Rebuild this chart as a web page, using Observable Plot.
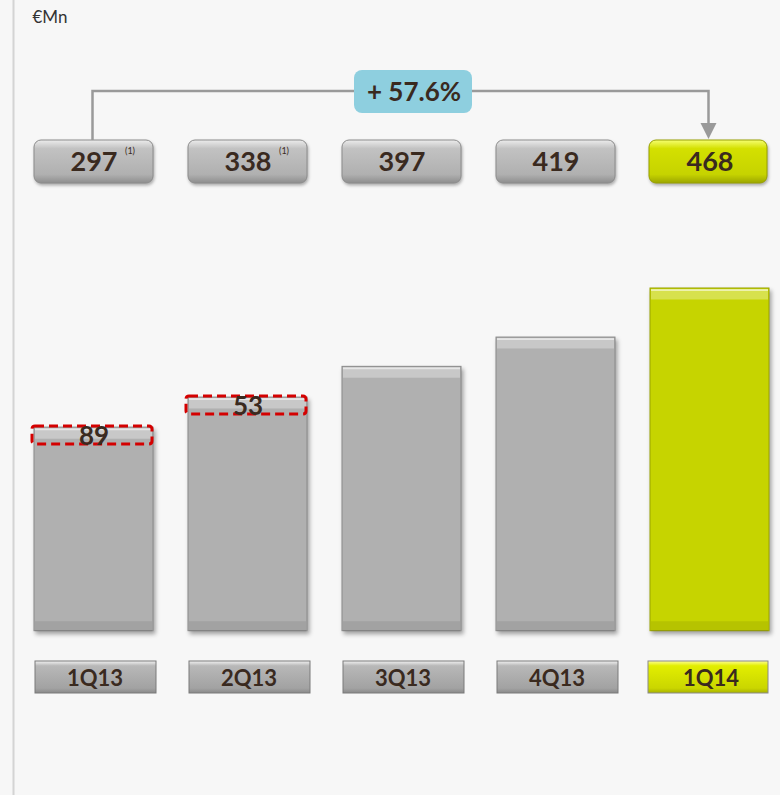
<!DOCTYPE html>
<html><head><meta charset="utf-8">
<script src="https://cdn.jsdelivr.net/npm/d3@7"></script>
<script src="https://cdn.jsdelivr.net/npm/@observablehq/plot@0.6"></script>
<style>
html,body{margin:0;padding:0;background:#f7f7f7;}
body{width:780px;height:795px;overflow:hidden;font-family:Lato,"Open Sans",sans-serif;}
.shadow{filter:drop-shadow(2px 3px 2px rgba(0,0,0,0.35));}
.softshadow{filter:drop-shadow(1px 2px 1.5px rgba(0,0,0,0.3));}
</style></head><body><div id="chart"></div>
<script>
// ---- data ----
const quarters = ["1Q13", "2Q13", "3Q13", "4Q13", "1Q14"];
const totals = [297, 338, 397, 419, 468];
const barHeights = [278, 319, 361, 401, 468];
const footnotes = ["(1)", "(1)", "", "", ""];
const highlight = [false, false, false, false, true];
const adjustedQuarters = ["1Q13", "2Q13"];
const adjustedValues = [89, 53];
const growthLabel = "+ 57.6%";
const unitLabel = "€Mn";

const rows = quarters.map((q, i) => ({q, total: totals[i], bar: barHeights[i], note: footnotes[i], hi: highlight[i]}));
const grayRows = rows.filter(d => !d.hi);
const hiRows = rows.filter(d => d.hi);
const adj = adjustedQuarters.map((q, i) => ({q, v: adjustedValues[i], top: barHeights[quarters.indexOf(q)]}));

const ink = "#3a2a1f";
const H = 795;

function defs() {
  const g = d3.create("svg:g");
  g.html(`<defs>
    <linearGradient id="gBox" x1="0" y1="0" x2="0" y2="1">
      <stop offset="0" stop-color="#ececec"/><stop offset="0.2" stop-color="#c2c2c2"/>
      <stop offset="0.8" stop-color="#b0b0b0"/><stop offset="1" stop-color="#8e8e8e"/></linearGradient>
    <linearGradient id="yBox" x1="0" y1="0" x2="0" y2="1">
      <stop offset="0" stop-color="#f6ff70"/><stop offset="0.2" stop-color="#d4e000"/>
      <stop offset="0.8" stop-color="#c6d300"/><stop offset="1" stop-color="#9ca600"/></linearGradient>
    <linearGradient id="gLab" x1="0" y1="0" x2="0" y2="1">
      <stop offset="0" stop-color="#f2f2f2"/><stop offset="0.15" stop-color="#b8b8b8"/>
      <stop offset="0.85" stop-color="#a2a2a2"/><stop offset="1" stop-color="#8a8a8a"/></linearGradient>
    <linearGradient id="yLab" x1="0" y1="0" x2="0" y2="1">
      <stop offset="0" stop-color="#ffff90"/><stop offset="0.15" stop-color="#e2ee00"/>
      <stop offset="0.85" stop-color="#cad600"/><stop offset="1" stop-color="#a8b200"/></linearGradient>
  </defs>`);
  return g.node();
}

function bracket(index, scales) {
  const x = scales.x;
  const bw = x.bandwidth ? x.bandwidth() : 0;
  const a = x(quarters[0]) + bw / 2 - 1;
  const b = x(quarters[quarters.length - 1]) + bw / 2 - 1;
  const g = d3.create("svg:g");
  g.append("path").attr("d", `M${a},140V91H${b}V125`).attr("fill", "none")
    .attr("stroke", "#9a9a9a").attr("stroke-width", 2.5);
  g.append("path").attr("d", `M${b - 8},123L${b + 8},123L${b},139Z`).attr("fill", "#9a9a9a");
  return g.node();
}

const plot = Plot.plot({
  width: 780, height: H, margin: 0,
  style: {background: "transparent", fontFamily: "Lato, 'Open Sans', sans-serif", overflow: "visible"},
  x: {domain: quarters, range: [34, 769], paddingInner: 35 / 154, paddingOuter: 0, axis: null},
  y: {domain: [0, 468], range: [630.7, 288], axis: null},
  marks: [
    defs,
    Plot.frame({anchor: "left", insetLeft: 13, stroke: "#d4d4d4", strokeWidth: 2}),
    Plot.text([unitLabel], {frameAnchor: "top-left", lineAnchor: "middle", dx: 32, dy: 17, fontSize: 17, fill: "#333", textAnchor: "start"}),
    // bars
    Plot.barY(rows, {x: "q", y: "bar", fill: d => d.hi ? "#c6d400" : "#b0b0b0",
      stroke: d => d.hi ? "#9aa300" : "#8a8a8a", strokeWidth: 1, className: "shadow"}),
    Plot.tickY(rows, {x: "q", y: "bar", stroke: "#ffffff", strokeOpacity: 0.3, strokeWidth: 10, dy: 6, inset: 1}),
    Plot.tickY(rows, {x: "q", y: "bar", stroke: "#ffffff", strokeOpacity: 0.55, strokeWidth: 2, dy: 1.5, inset: 1}),
    Plot.tickY(rows, {x: "q", y: () => 0, stroke: "#000000", strokeOpacity: 0.08, strokeWidth: 10, dy: -5, inset: 1}),
    // adjusted (dashed) boxes
    Plot.barY(adj, {x: "q", y1: d => d.top - 23, y2: d => d.top + 1.5, fill: "none", stroke: "#d40000",
      strokeWidth: 3, strokeDasharray: "9,5", insetLeft: -2, insetRight: 1, rx: 3}),
    Plot.text(adj, {x: "q", y: "top", text: d => String(d.v), dy: 9, fontSize: 26, fontWeight: "bold", fill: ink}),
    // top total boxes
    Plot.cell(grayRows, {x: "q", fill: "url(#gBox)", stroke: "#8c8c8c", rx: 7, insetTop: 140, insetBottom: H - 183, className: "softshadow"}),
    Plot.cell(hiRows, {x: "q", fill: "url(#yBox)", stroke: "#98a000", rx: 7, insetTop: 140, insetBottom: H - 183, insetLeft: -1, insetRight: 2, className: "softshadow"}),
    Plot.text(rows, {x: "q", text: d => String(d.total), frameAnchor: "top", lineAnchor: "middle", dy: 162, fontSize: 27, fontWeight: "bold", fill: ink}),
    Plot.text(rows.filter(d => d.note), {x: "q", text: "note", frameAnchor: "top", lineAnchor: "middle", dx: 36, dy: 151, fontSize: 9, fill: ink}),
    // growth bracket
    bracket,
    Plot.cell([quarters[2]], {x: d => d, fill: "#8ecfdf", rx: 8, insetTop: 70, insetBottom: H - 113, insetLeft: 12, insetRight: -11}),
    Plot.text([growthLabel], {x: () => quarters[2], text: d => d, frameAnchor: "top", lineAnchor: "middle", dx: 12, dy: 92, fontSize: 26, fontWeight: "bold", fill: ink}),
    // category label boxes
    Plot.cell(grayRows, {x: "q", fill: "url(#gLab)", stroke: "#7a7a7a", insetTop: 661, insetBottom: H - 693, insetLeft: 1, insetRight: -3}),
    Plot.cell(hiRows, {x: "q", fill: "url(#yLab)", stroke: "#8a8a8a", insetTop: 661, insetBottom: H - 693, insetLeft: -2, insetRight: 1}),
    Plot.text(rows, {x: "q", text: "q", frameAnchor: "top", lineAnchor: "middle", dy: 678, dx: 1, fontSize: 22, fontWeight: "bold", fill: ink})
  ]
});
document.getElementById("chart").appendChild(plot);
</script></body></html>
